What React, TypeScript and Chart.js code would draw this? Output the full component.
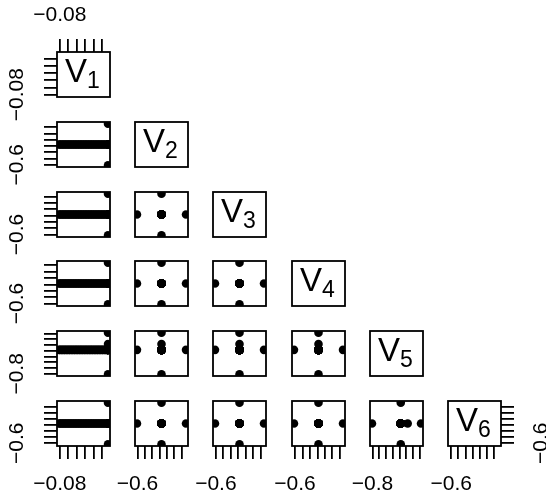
import React, { useEffect, useRef } from "react";
import { Chart, registerables } from "chart.js";

Chart.register(...registerables);

// ---------------- data (one entry per observation) ----------------
// 40 "centre" runs where V1 sweeps its range, then 11 star runs at V1 max
const v1 = [
  -0.08001, -0.08, -0.07998, -0.07997, -0.07995, -0.07994, -0.07992, -0.07991, -0.07989, -0.07988,
  -0.07986, -0.07985, -0.07983, -0.07982, -0.0798, -0.07979, -0.07977, -0.07976, -0.07974, -0.07973,
  -0.07971, -0.0797, -0.07968, -0.07967, -0.07965, -0.07964, -0.07962, -0.07961, -0.07959, -0.07958,
  -0.07956, -0.07955, -0.07953, -0.07952, -0.0795, -0.07949, -0.07947, -0.07946, -0.07944, -0.07943,
  -0.07943, -0.07943, -0.07943, -0.07943, -0.07943, -0.07943, -0.07943, -0.07943, -0.07943, -0.07943, -0.07943,
];
const v2 = [
  -0.56745, -0.56745, -0.56745, -0.56745, -0.56745, -0.56745, -0.56745, -0.56745, -0.56745, -0.56745,
  -0.56745, -0.56745, -0.56745, -0.56745, -0.56745, -0.56745, -0.56745, -0.56745, -0.56745, -0.56745,
  -0.56745, -0.56745, -0.56745, -0.56745, -0.56745, -0.56745, -0.56745, -0.56745, -0.56745, -0.56745,
  -0.56745, -0.56745, -0.56745, -0.56745, -0.56745, -0.56745, -0.56745, -0.56745, -0.56745, -0.56745,
  -0.6007, -0.5342, -0.56745, -0.56745, -0.56745, -0.56745, -0.56745, -0.56745, -0.56745, -0.56745, -0.56745,
];
const v3 = [
  -0.56845, -0.56845, -0.56845, -0.56845, -0.56845, -0.56845, -0.56845, -0.56845, -0.56845, -0.56845,
  -0.56845, -0.56845, -0.56845, -0.56845, -0.56845, -0.56845, -0.56845, -0.56845, -0.56845, -0.56845,
  -0.56845, -0.56845, -0.56845, -0.56845, -0.56845, -0.56845, -0.56845, -0.56845, -0.56845, -0.56845,
  -0.56845, -0.56845, -0.56845, -0.56845, -0.56845, -0.56845, -0.56845, -0.56845, -0.56845, -0.56845,
  -0.56845, -0.56845, -0.6012, -0.5357, -0.56845, -0.56845, -0.56845, -0.56845, -0.56845, -0.56845, -0.56845,
];
const v4 = [
  -0.56855, -0.56855, -0.56855, -0.56855, -0.56855, -0.56855, -0.56855, -0.56855, -0.56855, -0.56855,
  -0.56855, -0.56855, -0.56855, -0.56855, -0.56855, -0.56855, -0.56855, -0.56855, -0.56855, -0.56855,
  -0.56855, -0.56855, -0.56855, -0.56855, -0.56855, -0.56855, -0.56855, -0.56855, -0.56855, -0.56855,
  -0.56855, -0.56855, -0.56855, -0.56855, -0.56855, -0.56855, -0.56855, -0.56855, -0.56855, -0.56855,
  -0.56855, -0.56855, -0.56855, -0.56855, -0.6014, -0.5357, -0.56855, -0.56855, -0.56855, -0.56855, -0.56855,
];
const v5 = [
  -0.7166, -0.7166, -0.7166, -0.7166, -0.7166, -0.7166, -0.7166, -0.7166, -0.7166, -0.7166,
  -0.7166, -0.7166, -0.7166, -0.7166, -0.7166, -0.7166, -0.7166, -0.7166, -0.7166, -0.7166,
  -0.7166, -0.7166, -0.7166, -0.7166, -0.7166, -0.7166, -0.7166, -0.7166, -0.7166, -0.7166,
  -0.7166, -0.7166, -0.7166, -0.7166, -0.7166, -0.7166, -0.7166, -0.7166, -0.7166, -0.7166,
  -0.7166, -0.7166, -0.7166, -0.7166, -0.7166, -0.7166, -0.8016, -0.6568, -0.7166, -0.7166, -0.6962,
];
const v6 = [
  -0.5676, -0.5676, -0.5676, -0.5676, -0.5676, -0.5676, -0.5676, -0.5676, -0.5676, -0.5676,
  -0.5676, -0.5676, -0.5676, -0.5676, -0.5676, -0.5676, -0.5676, -0.5676, -0.5676, -0.5676,
  -0.5676, -0.5676, -0.5676, -0.5676, -0.5676, -0.5676, -0.5676, -0.5676, -0.5676, -0.5676,
  -0.5676, -0.5676, -0.5676, -0.5676, -0.5676, -0.5676, -0.5676, -0.5676, -0.5676, -0.5676,
  -0.5676, -0.5676, -0.5676, -0.5676, -0.5676, -0.5676, -0.5676, -0.5676, -0.6017, -0.5335, -0.5676,
];

const VAR_SUBS = ["1", "2", "3", "4", "5", "6"];
const VAR_MAIN = "V";

const ticksV1 = [-0.08, -0.0799, -0.0798, -0.0797, -0.0796, -0.0795];
const ticksV2 = [-0.6, -0.59, -0.58, -0.57, -0.56, -0.55, -0.54];
const ticksV3 = [-0.6, -0.59, -0.58, -0.57, -0.56, -0.55, -0.54];
const ticksV4 = [-0.6, -0.59, -0.58, -0.57, -0.56, -0.55, -0.54];
const ticksV5 = [-0.8, -0.78, -0.76, -0.74, -0.72, -0.7, -0.68, -0.66];
const ticksV6 = [-0.6, -0.59, -0.58, -0.57, -0.56, -0.55, -0.54];

// the label that remains visible (first tick) on each variable's axis
const AXIS_LABELS = ["\u22120.08", "\u22120.6", "\u22120.6", "\u22120.6", "\u22120.8", "\u22120.6"];

const VARS = [v1, v2, v3, v4, v5, v6];
const TICKS = [ticksV1, ticksV2, ticksV3, ticksV4, ticksV5, ticksV6];

// ---------------- layout / style ----------------
const COL_X = [57, 135, 213, 292, 370, 448];
const ROW_Y = [52, 122, 192, 261, 331, 401];
const PW = 53;
const PH = 45;
const M = 60;
const AXIS_SIZE = 56;
const TL = 13;
const LW = 1.8;
const FAMILY = "'Liberation Sans', Arial, Helvetica, sans-serif";
const TICK_SIZE = 21;

function limits(arr: number[]): [number, number] {
  const lo = Math.min(...arr);
  const hi = Math.max(...arr);
  const r = hi - lo;
  return [lo - 0.04 * r, hi + 0.04 * r];
}

const boxPlugin = {
  id: "panelBox",
  afterDatasetsDraw(chart: any) {
    const { ctx, chartArea: a } = chart;
    ctx.save();
    ctx.strokeStyle = "#000";
    ctx.lineWidth = LW;
    ctx.strokeRect(a.left, a.top, a.right - a.left, a.bottom - a.top);
    ctx.restore();
  },
};

const diagPlugin = {
  id: "diagLabel",
  afterDraw(chart: any, _args: any, opts: any) {
    if (!opts || !opts.sub) return;
    const { ctx, chartArea: a } = chart;
    ctx.save();
    ctx.fillStyle = "#000";
    ctx.textAlign = "left";
    ctx.textBaseline = "alphabetic";
    ctx.font = `33px ${FAMILY}`;
    const x0 = a.left + 8;
    const base = a.top + 30;
    ctx.fillText(opts.main, x0, base);
    const w = ctx.measureText(opts.main).width;
    ctx.font = `23px ${FAMILY}`;
    ctx.fillText(opts.sub, x0 + w, base + 6);
    ctx.restore();
  },
};

function scaleOpts(v: number, position: string, show: boolean, padding: number) {
  const [lo, hi] = limits(VARS[v]);
  const vertical = position === "left" || position === "right";
  const tickVals = TICKS[v];
  return {
    type: "linear",
    position,
    display: show,
    bounds: "data",
    min: lo,
    max: hi,
    grid: {
      display: true,
      drawOnChartArea: false,
      drawTicks: true,
      tickLength: TL,
      tickWidth: LW,
      tickColor: "#000",
      color: "#000",
      lineWidth: LW,
    },
    border: { display: false },
    ticks: {
      display: true,
      autoSkip: false,
      color: "#000",
      font: { family: FAMILY, size: TICK_SIZE },
      padding,
      minRotation: vertical ? 90 : 0,
      maxRotation: vertical ? 90 : 0,
      crossAlign: vertical ? "center" : "near",
      callback: (_val: any, idx: number) => (idx === 0 ? AXIS_LABELS[v] : ""),
    },
    afterBuildTicks: (s: any) => {
      s.ticks = tickVals.map((value) => ({ value }));
    },
    afterFit: (s: any) => {
      if (vertical) s.width = show ? AXIS_SIZE : 0;
      else s.height = show ? AXIS_SIZE : 0;
      s.paddingLeft = 0;
      s.paddingRight = 0;
      s.paddingTop = 0;
      s.paddingBottom = 0;
    },
  };
}

export default function App() {
  const hostRef = useRef<HTMLDivElement>(null);

  useEffect(() => {
    const host = hostRef.current;
    if (!host) return;
    document.body.style.margin = "0";
    const measure = document.createElement("canvas").getContext("2d")!;
    measure.font = `${TICK_SIZE}px ${FAMILY}`;
    const charts: Chart[] = [];
    const els: HTMLCanvasElement[] = [];

    for (let i = 0; i < 6; i++) {
      for (let j = 0; j <= i; j++) {
        const showTop = i === 0 && j === 0;
        const showBottom = i === 5;
        const showLeft = j === 0;
        const showRight = i === 5 && j === 5;
        const W = PW + 2 * M;
        const H = PH + 2 * M;
        const canvas = document.createElement("canvas");
        canvas.width = W;
        canvas.height = H;
        Object.assign(canvas.style, {
          position: "absolute",
          left: `${COL_X[j] - M}px`,
          top: `${ROW_Y[i] - M}px`,
          width: `${W}px`,
          height: `${H}px`,
        });
        host.appendChild(canvas);
        els.push(canvas);

        const points = i === j ? [] : VARS[j].map((x, k) => ({ x, y: VARS[i][k] }));
        const xShow = showTop || showBottom;
        const yShow = showLeft || showRight;
        const xPos = showTop ? "top" : "bottom";
        const yPos = showRight ? "right" : "left";
        const xPad = showTop ? 11 : 13;
        const yPad = 27 - measure.measureText(AXIS_LABELS[i]).width / 2;

        const chart = new Chart(canvas, {
          type: "scatter",
          data: {
            datasets: [
              {
                data: points,
                pointRadius: 4.3,
                pointHoverRadius: 4.3,
                pointStyle: "circle",
                backgroundColor: "#000",
                borderColor: "#000",
                borderWidth: 0,
                clip: 0,
              } as any,
            ],
          },
          options: {
            animation: false,
            responsive: false,
            devicePixelRatio: 1,
            events: [],
            layout: {
              padding: {
                left: M - (showLeft ? AXIS_SIZE : 0),
                right: M - (showRight ? AXIS_SIZE : 0),
                top: M - (showTop ? AXIS_SIZE : 0),
                bottom: M - (showBottom ? AXIS_SIZE : 0),
              },
            },
            plugins: {
              legend: { display: false },
              tooltip: { enabled: false },
              diagLabel: i === j ? { main: VAR_MAIN, sub: VAR_SUBS[i] } : { sub: "" },
            } as any,
            scales: {
              x: scaleOpts(j, xPos, xShow, xPad) as any,
              y: scaleOpts(i, yPos, yShow, yPad) as any,
            },
          },
          plugins: [boxPlugin, diagPlugin],
        });
        charts.push(chart);
      }
    }

    return () => {
      charts.forEach((c) => c.destroy());
      els.forEach((c) => c.remove());
    };
  }, []);

  return (
    <div
      ref={hostRef}
      style={{
        position: "fixed",
        left: 0,
        top: 0,
        width: 546,
        height: 497,
        overflow: "hidden",
        background: "#fff",
      }}
    />
  );
}
